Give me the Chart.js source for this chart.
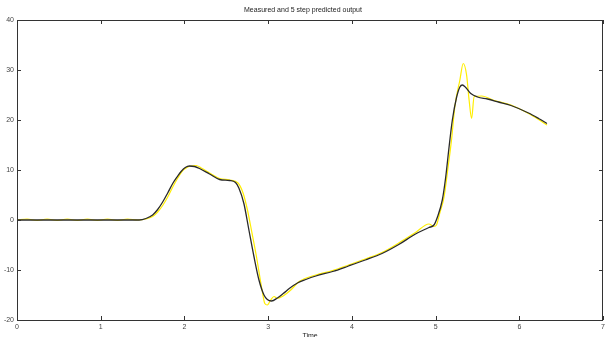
<!DOCTYPE html>
<html><head><meta charset="utf-8">
<script src="https://cdn.jsdelivr.net/npm/chart.js@4/dist/chart.umd.min.js"></script>
<style>html,body{margin:0;padding:0;background:#fff}#wrap{width:608px;height:337px}</style>
</head><body><div id="wrap"><canvas id="c" width="608" height="337"></canvas></div>
<script>
const chartTitle = "Measured and 5 step predicted output";
const xTitle = "Time";
const xTicks = [0,1,2,3,4,5,6,7];
const yTicks = [-20,-10,0,10,20,30,40];

const timeMeasured = [0,0.5,1.0,1.46,1.54,1.62,1.68,1.74,1.80,1.86,1.92,1.96,2.01,2.06,2.12,2.18,2.30,2.42,2.54,2.61,2.65,2.71,2.77,2.83,2.89,2.95,2.99,3.04,3.11,3.18,3.26,3.35,3.45,3.57,3.77,3.96,4.16,4.36,4.56,4.76,4.92,4.98,5.02,5.08,5.12,5.16,5.20,5.25,5.29,5.32,5.36,5.42,5.50,5.62,5.75,5.90,6.11,6.23,6.33];
const measured =     [0,0,0,0,0.3,1,2.1,3.6,5.4,7.3,8.8,9.7,10.5,10.8,10.7,10.3,9.2,8.1,7.9,7.5,6.4,3.3,-2,-7.3,-12,-15,-15.9,-16.2,-15.6,-14.7,-13.6,-12.6,-11.9,-11.2,-10.3,-9.2,-8,-6.7,-4.9,-2.8,-1.5,-1,0.5,4,8.5,14.5,20,24.5,26.6,27,26.5,25.3,24.6,24.2,23.6,22.9,21.4,20.3,19.3];

const timePredicted = [0,0.12,0.24,0.36,0.48,0.60,0.72,0.84,0.96,1.08,1.20,1.32,1.44,1.54,1.62,1.68,1.74,1.80,1.86,1.92,1.97,2.02,2.08,2.14,2.20,2.30,2.42,2.54,2.64,2.70,2.75,2.80,2.86,2.93,2.96,2.99,3.03,3.07,3.11,3.17,3.27,3.37,3.57,3.77,3.96,4.16,4.36,4.56,4.76,4.92,4.98,5.01,5.05,5.10,5.15,5.19,5.23,5.29,5.33,5.37,5.40,5.43,5.46,5.55,5.70,5.90,6.11,6.23,6.33];
const predicted =     [0,0.2,-0.1,0.2,-0.1,0.2,-0.1,0.2,-0.1,0.2,-0.1,0.2,0,0.2,0.7,1.6,2.9,4.6,6.6,8.4,9.7,10.4,10.8,10.9,10.4,9.4,8.3,8.0,7.4,5.4,2.2,-2,-7.3,-14.3,-16.7,-17,-16,-15.3,-15.7,-15.3,-14,-12.3,-11.0,-10.1,-9.0,-7.8,-6.5,-4.6,-2.5,-0.8,-1.3,-1,1.4,4.5,10.7,16,22.7,28,31.3,29,24,20.3,24.7,24.8,23.9,23.0,21.3,20.1,19.0];

const pts = (t, v) => t.map((x, i) => ({x: x, y: v[i]}));

const boxTicks = {
  id: 'boxTicks',
  afterDraw(chart) {
    const {ctx, chartArea: a, scales: {x, y}} = chart;
    ctx.save();
    ctx.strokeStyle = '#333';
    ctx.lineWidth = 1;
    ctx.beginPath();
    ctx.rect(Math.round(a.left) + 0.5, Math.round(a.top) + 0.5, Math.round(a.right - a.left) - 1, Math.round(a.bottom - a.top));
    ctx.stroke();
    const L = 4;
    ctx.beginPath();
    xTicks.forEach(v => {
      const px = Math.round(x.getPixelForValue(v)) + 0.5;
      ctx.moveTo(px, a.bottom); ctx.lineTo(px, a.bottom - L);
      ctx.moveTo(px, a.top); ctx.lineTo(px, a.top + L);
    });
    yTicks.forEach(v => {
      const py = Math.round(y.getPixelForValue(v)) + 0.5;
      ctx.moveTo(a.left, py); ctx.lineTo(a.left + L, py);
      ctx.moveTo(a.right, py); ctx.lineTo(a.right - L, py);
    });
    ctx.stroke();
    ctx.restore();
  }
};

const tickFont = {family: 'Liberation Sans', size: 7, weight: 'normal'};

new Chart(document.getElementById('c'), {
  type: 'line',
  data: {
    datasets: [
      {label: 'Measured', data: pts(timeMeasured, measured), borderColor: '#2a2a2a', borderWidth: 1.3, pointRadius: 0, cubicInterpolationMode: 'monotone', fill: false},
      {label: 'Predicted', data: pts(timePredicted, predicted), borderColor: '#ffee00', borderWidth: 1.2, pointRadius: 0, cubicInterpolationMode: 'monotone', fill: false}
    ]
  },
  options: {
    responsive: false,
    animation: false,
    events: [],
    layout: {padding: {left: 0, right: 2, top: 0, bottom: 0}},
    plugins: {
      legend: {display: false},
      tooltip: {enabled: false},
      title: {display: true, text: chartTitle, color: '#222', font: tickFont, padding: {top: 6, bottom: 5.6}}
    },
    scales: {
      x: {
        type: 'linear', min: 0, max: 7,
        afterBuildTicks: s => { s.ticks = xTicks.map(v => ({value: v})); },
        afterFit: s => { s.height = 17; },
        grid: {display: false, drawTicks: false},
        border: {display: false},
        ticks: {color: '#444', font: tickFont, padding: 3, maxRotation: 0, autoSkip: false},
        title: {display: true, text: xTitle, color: '#222', font: tickFont, padding: {top: 0, bottom: -3}}
      },
      y: {
        type: 'linear', min: -20, max: 40,
        afterBuildTicks: s => { s.ticks = yTicks.map(v => ({value: v})); },
        afterFit: s => { s.width = 17; },
        grid: {display: false, drawTicks: false},
        border: {display: false},
        ticks: {color: '#444', font: tickFont, padding: 3, autoSkip: false}
      }
    }
  },
  plugins: [boxTicks]
});
</script>
</body></html>
